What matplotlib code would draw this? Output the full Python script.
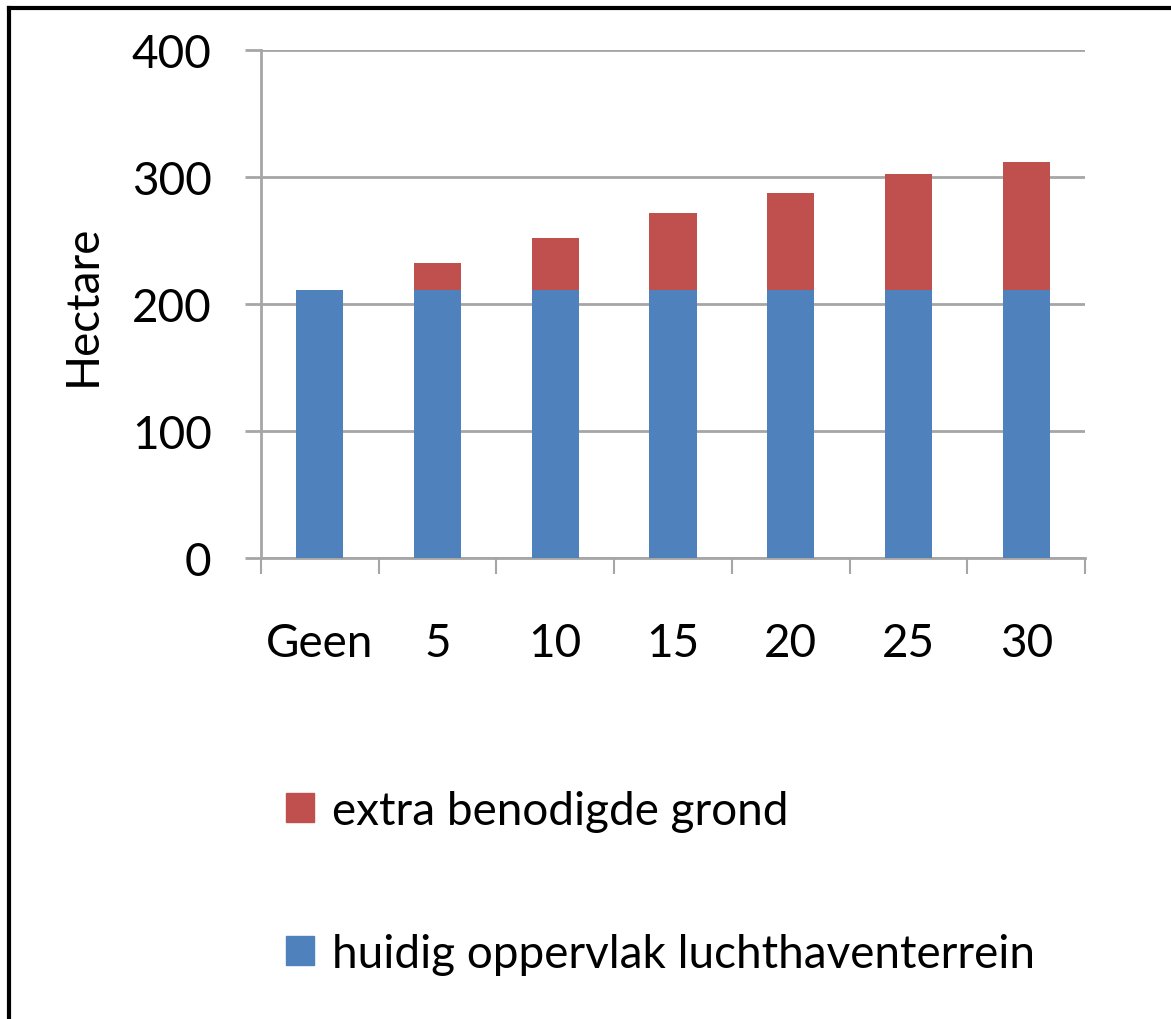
import matplotlib.pyplot as plt
from matplotlib.lines import Line2D
from matplotlib.patches import Patch
import numpy as np

categories = ["Geen", "5", "10", "15", "20", "25", "30"]
huidig = [211, 211, 211, 211, 211, 211, 211]
extra = [0, 21, 41, 61, 76, 91, 101]
yticks = [0, 100, 200, 300, 400]

BLUE = "#4F81BD"
RED = "#C0504D"
GRID = "#A6A6A6"

plt.rcParams["font.family"] = ["Lato", "DejaVu Sans"]
FS = 33

fig = plt.figure(figsize=(11.71, 10.20), dpi=100)
ax = fig.add_axes([0.2229, 0.452, 0.7037, 0.498])

x = np.arange(len(categories))
ax.bar(x, huidig, width=0.4, color=BLUE, zorder=3)
ax.bar(x, extra, width=0.4, bottom=huidig, color=RED, zorder=3)

ax.set_xlim(-0.5, len(categories) - 0.5)
ax.set_ylim(0, 400)
ax.set_yticks(yticks)
ax.set_yticklabels([str(v) for v in yticks], fontsize=FS)
ax.grid(axis="y", color=GRID, linewidth=2, zorder=0)
ax.tick_params(axis="y", length=11.5, width=2, color=GRID, pad=24)

# category boundaries get tick marks, labels sit in the middle
ax.set_xticks(np.arange(len(categories) + 1) - 0.5)
ax.set_xticklabels([])
ax.tick_params(axis="x", which="major", length=11.5, width=1.5, color=GRID)
ax.set_xticks(x, minor=True)
ax.set_xticklabels(categories, minor=True, fontsize=FS)
ax.tick_params(axis="x", which="minor", length=0, pad=46)

for side in ["top", "right"]:
    ax.spines[side].set_visible(False)
for side in ["left", "bottom"]:
    ax.spines[side].set_color(GRID)
    ax.spines[side].set_linewidth(2)

ax.set_ylabel("Hectare", fontsize=FS, labelpad=20)

handles = [Patch(color=RED, label="extra benodigde grond"),
           Patch(color=BLUE, label="huidig oppervlak luchthaventerrein")]
fig.legend(handles=handles, loc="upper left", bbox_to_anchor=(0.225, 0.247),
           frameon=False, fontsize=FS, handlelength=0.6, handleheight=0.6,
           handletextpad=0.4, labelspacing=2.2, borderpad=0)

# outer frame (top and left edges)
fig.add_artist(Line2D([0.008, 1.0], [0.991, 0.991], color="black", linewidth=3))
fig.add_artist(Line2D([0.008, 0.008], [0.0, 0.991], color="black", linewidth=3))

fig.savefig("out.png", dpi=100)
